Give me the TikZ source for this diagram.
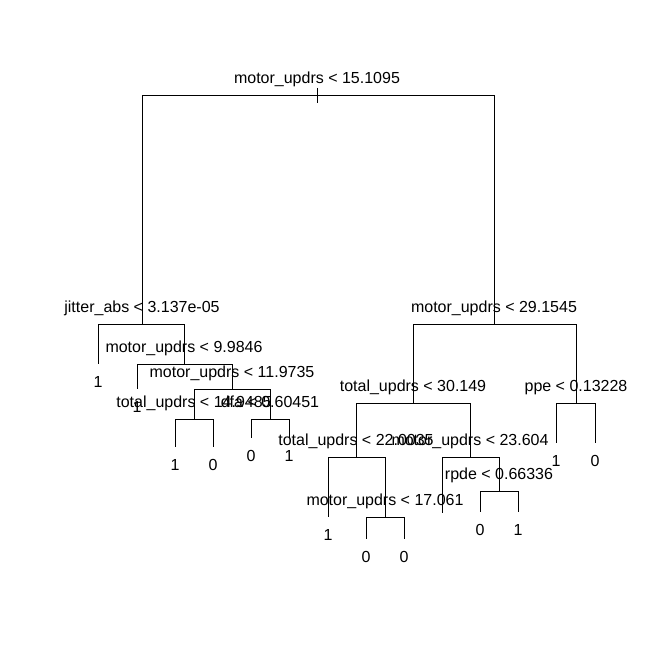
\documentclass[tikz,border=0pt]{standalone}
\usepackage{fontspec}
\setmainfont{Liberation Sans}

\tikzset{
  split/.style={font=\fontsize{16}{16}\selectfont, anchor=base, inner sep=0pt},
  leaf/.style={font=\fontsize{16}{16}\selectfont, anchor=base, inner sep=0pt},
  branch/.style={line width=1pt}
}

\begin{document}
\begin{tikzpicture}[x=1pt, y=-1pt]
    \fill[white](0,0) rectangle (655,655);
    \useasboundingbox (0,0) rectangle (655,655);

    % split points
    \coordinate (root) at (317,96);
    \coordinate (jit) at (142,324);
    \coordinate (mu29) at (494,324);
    \coordinate (mu99) at (184,364);
    \coordinate (mu119) at (232,389);
    \coordinate (tu149) at (194,419);
    \coordinate (dfa) at (270,419);
    \coordinate (tu30) at (413,403);
    \coordinate (ppe) at (576,403);
    \coordinate (tu22) at (356,457);
    \coordinate (mu23) at (470,457);
    \coordinate (mu17) at (385,517);
    \coordinate (rpde) at (499,491);

    % leaf ends
    \coordinate (lfA) at (98,364);
    \coordinate (lfB) at (137,389);
    \coordinate (lfC) at (175,447);
    \coordinate (lfD) at (213,447);
    \coordinate (lfE) at (251,438);
    \coordinate (lfF) at (289,438);
    \coordinate (lfG) at (556,443);
    \coordinate (lfH) at (595,443);
    \coordinate (lfI) at (328,517);
    \coordinate (lfJ) at (366,539);
    \coordinate (lfK) at (404,539);
    \coordinate (lfL) at (442,513);
    \coordinate (lfM) at (480,512);
    \coordinate (lfN) at (518,512);

    % root stem
    \coordinate (stemtop) at (317,88);
    \coordinate (stembot) at (317,103);
    \draw[branch](stemtop)--(stembot);

    % branches
    \foreach \p/\c in {root/jit, root/mu29, jit/lfA, jit/mu99, mu99/lfB, mu99/mu119,
        mu119/tu149, mu119/dfa, tu149/lfC, tu149/lfD, dfa/lfE, dfa/lfF,
        mu29/tu30, mu29/ppe, ppe/lfG, ppe/lfH, tu30/tu22, tu30/mu23,
        tu22/lfI, tu22/mu17, mu17/lfJ, mu17/lfK, mu23/lfL, mu23/rpde,
        rpde/lfM, rpde/lfN}
        \draw[branch](\p)-|(\c);

    % split labels
    \node[split](root label) at ([yshift=12pt]root) {motor\_updrs < 15.1095};
    \node[split](jit label) at ([yshift=12pt]jit) {jitter\_abs < 3.137e-05};
    \node[split](mu29 label) at ([yshift=12pt]mu29) {motor\_updrs < 29.1545};
    \node[split](mu99 label) at ([yshift=12pt]mu99) {motor\_updrs < 9.9846};
    \node[split](mu119 label) at ([yshift=12pt]mu119) {motor\_updrs < 11.9735};
    \node[split](tu149 label) at ([yshift=12pt]tu149) {total\_updrs < 14.9485};
    \node[split](dfa label) at ([yshift=12pt]dfa) {dfa < 0.60451};
    \node[split](tu30 label) at ([yshift=12pt]tu30) {total\_updrs < 30.149};
    \node[split](ppe label) at ([yshift=12pt]ppe) {ppe < 0.13228};
    \node[split](tu22 label) at ([yshift=12pt]tu22) {total\_updrs < 22.0035};
    \node[split](mu23 label) at ([yshift=12pt]mu23) {motor\_updrs < 23.604};
    \node[split](mu17 label) at ([yshift=12pt]mu17) {motor\_updrs < 17.061};
    \node[split](rpde label) at ([yshift=12pt]rpde) {rpde < 0.66336};

    % leaf labels
    \foreach \l/\v in {lfA/1, lfB/1, lfC/1, lfD/0, lfE/0, lfF/1, lfG/1, lfH/0,
        lfI/1, lfJ/0, lfK/0, lfM/0, lfN/1}
        \node[leaf](\l label) at ([yshift=-23pt]\l) {\v};
\end{tikzpicture}
\end{document}
